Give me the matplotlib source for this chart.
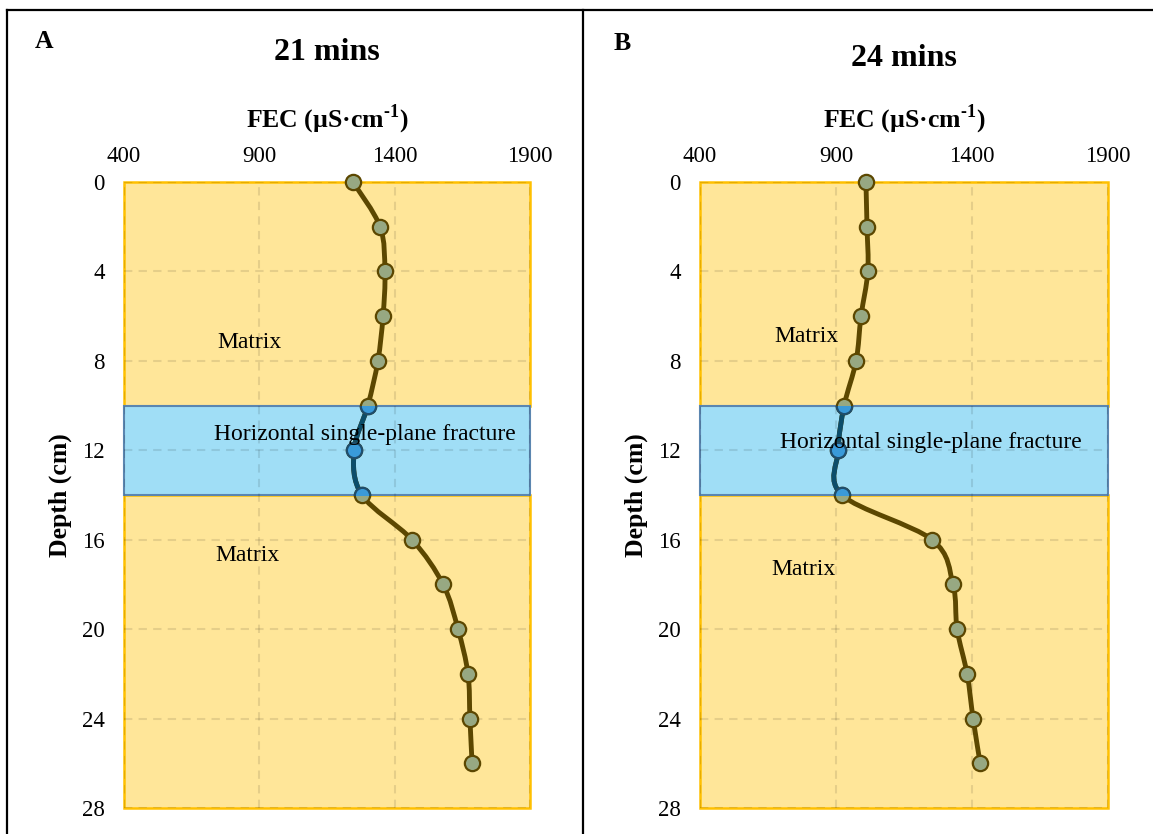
import matplotlib
matplotlib.use("Agg")
import matplotlib.pyplot as plt
from matplotlib.patches import Rectangle
from matplotlib.path import Path
from matplotlib.patches import PathPatch
from matplotlib.lines import Line2D

plt.rcParams['font.family'] = ['Liberation Serif', 'DejaVu Serif']
plt.rcParams['mathtext.fontset'] = 'custom'
plt.rcParams['mathtext.rm'] = 'Liberation Serif:bold'
plt.rcParams['mathtext.bf'] = 'Liberation Serif:bold'

# depth (cm) and fluid electrical conductivity profiles
depth = [0, 2, 4, 6, 8, 10, 12, 14, 16, 18, 20, 22, 24, 26]
fec_21 = [1246, 1346, 1364, 1357, 1338, 1301, 1250, 1279, 1464, 1579, 1634, 1671, 1678, 1686]
fec_24 = [1010, 1014, 1017, 992, 974, 930, 908, 922, 1253, 1330, 1345, 1382, 1404, 1430]
panel_titles = ["21 mins", "24 mins"]
panel_letters = ["A", "B"]
xticks = [400, 900, 1400, 1900]
yticks = [0, 4, 8, 12, 16, 20, 24, 28]
fracture_top, fracture_bottom = 10, 14
# label anchors (FEC, depth)
matrix_upper = [(865, 7.2), (790, 6.9)]
matrix_lower = [(858, 16.7), (779, 17.35)]
fracture_lbl = [(1290, 11.3), (1249, 11.67)]

yellow = "#FFE699"
orange = "#FFC000"
band_blue = "#A0DEF6"
band_edge = "#5B86B0"
brown = "#5C4700"
dark_blue = "#0C4D6A"
marker_green = "#97A882"
marker_blue = "#3A9AD9"


def smooth_path(x, y, i0, i1):
    """cubic bezier path through points i0..i1 (catmull-rom handles)"""
    n = len(x)
    verts = [(x[i0], y[i0])]
    codes = [Path.MOVETO]
    for i in range(i0, i1):
        p0 = max(i - 1, 0)
        p3 = min(i + 2, n - 1)
        c1 = (x[i] + (x[i + 1] - x[p0]) / 6, y[i] + (y[i + 1] - y[p0]) / 6)
        c2 = (x[i + 1] - (x[p3] - x[i]) / 6, y[i + 1] - (y[p3] - y[i]) / 6)
        verts += [c1, c2, (x[i + 1], y[i + 1])]
        codes += [Path.CURVE4] * 3
    return Path(verts, codes)


fig = plt.figure(figsize=(11.53, 8.34), dpi=100)

# table frame
fig.add_artist(Line2D([7 / 1153, 7 / 1153], [0, 1 - 10 / 834], color="black", lw=1.6))
fig.add_artist(Line2D([7 / 1153, 1], [1 - 10 / 834, 1 - 10 / 834], color="black", lw=1.6))
fig.add_artist(Line2D([583 / 1153, 583 / 1153], [0, 1 - 10 / 834], color="black", lw=1.6))

lefts = [124 / 1153, 700 / 1153]
widths = [406 / 1153, 408 / 1153]
title_y = [1 - 52 / 834, 1 - 58 / 834]
letter_pos = [(44 / 1153, 1 - 42 / 834), (622 / 1153, 1 - 44 / 834)]
depth_lbl_x = [60 / 1153, 636 / 1153]

for k, fec in enumerate([fec_21, fec_24]):
    ax = fig.add_axes([lefts[k], 26 / 834, widths[k], 626 / 834])
    ax.set_xlim(xticks[0], xticks[-1])
    ax.set_ylim(yticks[-1], yticks[0])
    for s in ax.spines.values():
        s.set_visible(False)
    ax.patch.set_visible(False)

    # matrix and fracture zones
    ax.add_patch(Rectangle((xticks[0], 0), xticks[-1] - xticks[0], fracture_top,
                           fc=yellow, ec=orange, lw=1.8, zorder=0, clip_on=False))
    ax.add_patch(Rectangle((xticks[0], fracture_bottom), xticks[-1] - xticks[0],
                           yticks[-1] - fracture_bottom, fc=yellow, ec=orange, lw=1.8,
                           zorder=0, clip_on=False))
    band = Rectangle((xticks[0], fracture_top), xticks[-1] - xticks[0],
                     fracture_bottom - fracture_top, fc=band_blue, ec=band_edge, lw=1.5,
                     zorder=0.5, clip_on=False)
    ax.add_patch(band)

    ax.set_xticks(xticks)
    ax.set_yticks(yticks)
    ax.xaxis.tick_top()
    ax.tick_params(length=0, labelsize=16.5, pad=11)
    ax.tick_params(axis="y", pad=14)
    ax.grid(True, color="black", alpha=0.1, lw=1.5, linestyle=(0, (4, 3)))
    for gl in ax.get_xgridlines() + ax.get_ygridlines():
        gl.set_zorder(1)

    # profile curve
    full = PathPatch(smooth_path(fec, depth, 0, len(depth) - 1), fc="none", ec=brown,
                     lw=3.5, zorder=3, capstyle="round", joinstyle="round")
    ax.add_patch(full)
    i0 = depth.index(fracture_top)
    i1 = depth.index(fracture_bottom)
    frac = PathPatch(smooth_path(fec, depth, i0 - 1, i1 + 1), fc="none", ec=dark_blue,
                     lw=3.5, zorder=3.5)
    ax.add_patch(frac)
    frac.set_clip_path(band)

    ax.plot(fec, depth, ls="none", marker="o", ms=11, mfc=marker_green, mec=brown,
            mew=1.6, zorder=4, clip_on=False)
    mk = ax.plot(fec[i0:i1 + 1], depth[i0:i1 + 1], ls="none", marker="o", ms=11,
                 mfc=marker_blue, mec="#1E4E6E", mew=1.6, zorder=4.5)[0]
    mk.set_clip_path(band)

    for (tx, ty) in [matrix_upper[k], matrix_lower[k]]:
        ax.text(tx, ty, "Matrix", fontsize=17, ha="center", va="center", zorder=5)
    ax.text(fracture_lbl[k][0], fracture_lbl[k][1], "Horizontal single-plane fracture",
            fontsize=17, ha="center", va="center", zorder=5)

    cx = lefts[k] + widths[k] / 2
    fig.text(cx, title_y[k], panel_titles[k], fontsize=23, fontweight="bold",
             ha="center", va="center")
    fig.text(cx, 1 - 119 / 834, r"FEC (µS·cm$^{\text{-1}}$)", fontsize=18.5,
             fontweight="bold", ha="center", va="center")
    fig.text(letter_pos[k][0], letter_pos[k][1], panel_letters[k], fontsize=18.5,
             fontweight="bold", ha="center", va="center")
    fig.text(depth_lbl_x[k], 1 - 495 / 834, "Depth (cm)", fontsize=18.5, fontweight="bold",
             rotation=90, ha="center", va="center")

fig.savefig("out.png", dpi=100)
